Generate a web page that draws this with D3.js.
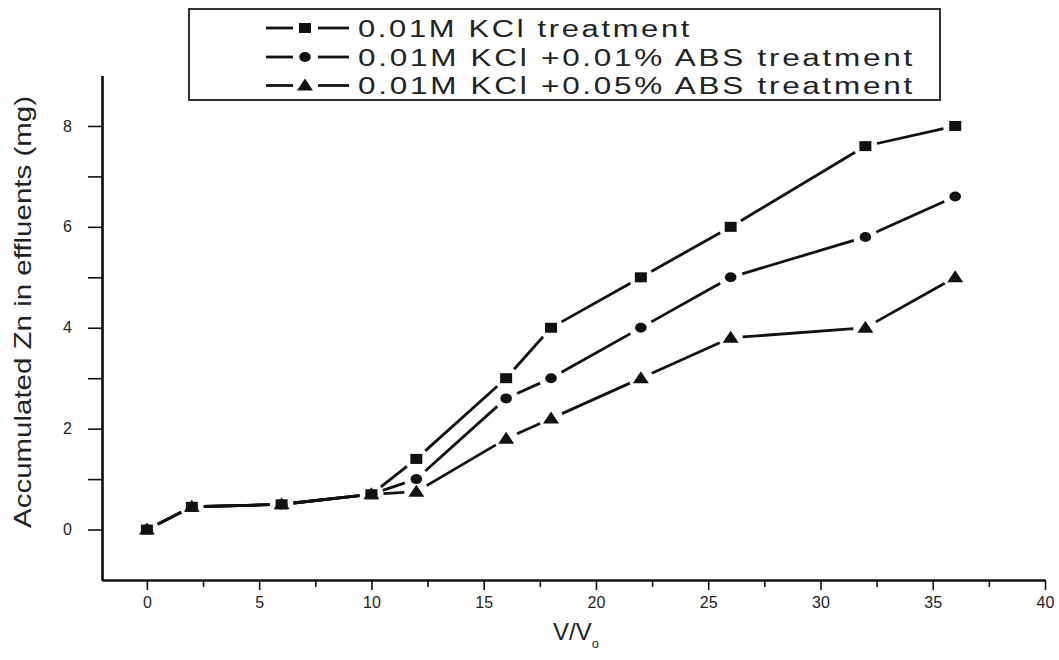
<!DOCTYPE html>
<html>
<head>
<meta charset="utf-8">
<script src="https://cdn.jsdelivr.net/npm/d3@7"></script>
<style>
  body { margin: 0; background: #fff; }
  svg { display: block; }
  text { font-family: "Liberation Sans", Arial, sans-serif; fill: #222; }
</style>
</head>
<body>
<div id="chart"></div>
<script>
"use strict";

/* data */
const vv       = [0, 2, 6, 10, 12, 16, 18, 22, 26, 32, 36];
const kcl      = [0, 0.45, 0.5, 0.7, 1.4, 3.0, 4.0, 5.0, 6.0, 7.6, 8.0];
const kclAbs01 = [0, 0.45, 0.5, 0.7, 1.0, 2.6, 3.0, 4.0, 5.0, 5.8, 6.6];
const kclAbs05 = [0, 0.45, 0.5, 0.7, 0.75, 1.8, 2.2, 3.0, 3.8, 4.0, 5.0];
const seriesNames = ["0.01M KCl treatment", "0.01M KCl +0.01% ABS treatment", "0.01M KCl +0.05% ABS treatment"];
const xTicks = [0, 5, 10, 15, 20, 25, 30, 35, 40];
const xMinor = [2.5, 7.5, 12.5, 17.5, 22.5, 27.5, 32.5, 37.5];
const yTicks = [0, 2, 4, 6, 8];
const yMinor = [1, 3, 5, 7];

const W = 1059, H = 660;
const svg = d3.select("#chart").append("svg").attr("width", W).attr("height", H);

/* axis frame */
const x = d3.scaleLinear().domain([-2, 40]).range([102, 1045]);
const y = d3.scaleLinear().domain([-1, 9]).range([580, 75.5]);
const x0 = y.range()[0], yLeft = x.range()[0];

/* x axis */
const gx = svg.append("g").attr("transform", `translate(0,${x0})`);
gx.call(d3.axisBottom(x).tickValues(xTicks).tickSize(10).tickPadding(7).tickSizeOuter(0));
gx.append("g").call(d3.axisBottom(x).tickValues(xMinor).tickSize(7).tickFormat("").tickSizeOuter(0));

/* y axis */
const gy = svg.append("g").attr("transform", `translate(${yLeft},0)`);
gy.call(d3.axisLeft(y).tickValues(yTicks).tickSize(14).tickPadding(16).tickSizeOuter(0));
gy.append("g").call(d3.axisLeft(y).tickValues(yMinor).tickSize(14).tickFormat("").tickSizeOuter(0));

svg.selectAll(".domain").attr("stroke", "#111").attr("stroke-width", 2.2);
svg.selectAll(".tick line").attr("stroke", "#111").attr("stroke-width", 1.6);
svg.selectAll(".tick text").style("font-size", "16px").style("font-family", "Liberation Sans, Arial, sans-serif").attr("fill", "#333");

/* axis titles */
svg.append("text")
  .attr("transform", `translate(31,${312}) rotate(-90)`)
  .attr("text-anchor", "middle")
  .attr("textLength", 432)
  .attr("lengthAdjust", "spacingAndGlyphs")
  .style("font-family", "Liberation Sans Narrow, Liberation Sans, sans-serif")
  .style("font-size", "24px")
  .text("Accumulated Zn in effluents (mg)");

const xt = svg.append("text")
  .attr("x", 576).attr("y", 640)
  .attr("text-anchor", "middle")
  .style("font-size", "24px");
xt.append("tspan").text("V/V");
xt.append("tspan").attr("dy", 8).style("font-size", "13px").text("o");

/* markers */
function marker(g, kind) {
  if (kind === 0) {
    g.append("rect").attr("x", -6).attr("y", -5).attr("width", 12).attr("height", 10);
  } else if (kind === 1) {
    g.append("ellipse").attr("rx", 5.8).attr("ry", 5);
  } else {
    g.append("path").attr("d", "M0,-7L8,5L-8,5Z");
  }
}

/* line segments stop short of the markers */
function drawSeries(values, kind) {
  const pts = vv.map((v, i) => [x(v), y(values[i])]);
  const gap = 12;
  const g = svg.append("g");
  for (let i = 0; i < pts.length - 1; i++) {
    const [ax, ay] = pts[i], [bx, by] = pts[i + 1];
    const len = Math.hypot(bx - ax, by - ay);
    if (len <= 2 * gap) continue;
    const ux = (bx - ax) / len, uy = (by - ay) / len;
    g.append("line")
      .attr("x1", ax + ux * gap).attr("y1", ay + uy * gap)
      .attr("x2", bx - ux * gap).attr("y2", by - uy * gap)
      .attr("stroke", "#111").attr("stroke-width", 2.8);
  }
  pts.forEach(p => {
    const m = g.append("g").attr("transform", `translate(${p[0]},${p[1]})`).attr("fill", "#111");
    marker(m, kind);
  });
}

drawSeries(kcl, 0);
drawSeries(kclAbs01, 1);
drawSeries(kclAbs05, 2);

/* legend */
const leg = svg.append("g");
leg.append("rect").attr("x", 189).attr("y", 9).attr("width", 751).attr("height", 91)
  .attr("fill", "#fff").attr("stroke", "#333").attr("stroke-width", 2);
const rowY = [28, 57, 85.5];
const textLen = [334, 557, 557];
seriesNames.forEach((name, i) => {
  const r = leg.append("g").attr("transform", `translate(0,${rowY[i]})`);
  r.append("line").attr("x1", 266).attr("x2", 293).attr("stroke", "#111").attr("stroke-width", 2.8);
  r.append("line").attr("x1", 318).attr("x2", 349).attr("stroke", "#111").attr("stroke-width", 2.8);
  const m = r.append("g").attr("transform", "translate(305,0)").attr("fill", "#111");
  marker(m, i);
  r.append("text").attr("x", 358).attr("y", 8.5)
    .attr("textLength", textLen[i]).attr("lengthAdjust", "spacingAndGlyphs")
    .style("font-size", "23px")
    .style("letter-spacing", "2px")
    .text(name);
});
</script>
</body>
</html>
